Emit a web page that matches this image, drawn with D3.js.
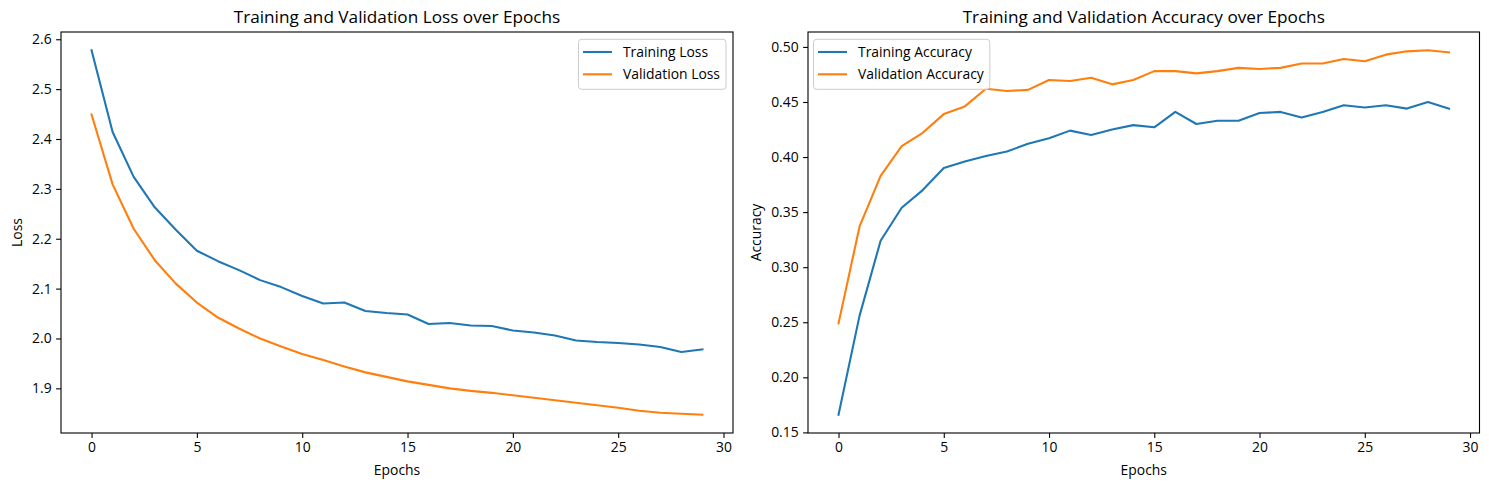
<!DOCTYPE html>
<html>
<head>
<meta charset="utf-8">
<script src="https://cdn.jsdelivr.net/npm/d3@7"></script>
<style>
  body { margin: 0; background: #fff; }
  svg text { font-family: "Open Sans", "Noto Sans", sans-serif; fill: #000; }
</style>
</head>
<body>
<svg id="chart" width="1489" height="490"></svg>
<script>
// ---------------- data ----------------
var epochs = d3.range(30);

var trainLoss = [2.578, 2.414, 2.324, 2.263, 2.218, 2.176, 2.155, 2.137, 2.117, 2.103,
                 2.085, 2.070, 2.072, 2.055, 2.051, 2.048, 2.029, 2.031, 2.026, 2.025,
                 2.016, 2.012, 2.006, 1.996, 1.993, 1.991, 1.988, 1.983, 1.973, 1.978];
var valLoss   = [2.449, 2.309, 2.220, 2.157, 2.110, 2.072, 2.042, 2.020, 2.000, 1.984,
                 1.969, 1.957, 1.944, 1.932, 1.923, 1.914, 1.907, 1.900, 1.895, 1.891,
                 1.886, 1.881, 1.876, 1.871, 1.866, 1.861, 1.855, 1.851, 1.849, 1.847];

var trainAcc  = [0.166, 0.256, 0.324, 0.354, 0.370, 0.390, 0.396, 0.401, 0.405, 0.412,
                 0.417, 0.424, 0.420, 0.425, 0.429, 0.427, 0.441, 0.430, 0.433, 0.433,
                 0.440, 0.441, 0.436, 0.441, 0.447, 0.445, 0.447, 0.444, 0.450, 0.444];
var valAcc    = [0.249, 0.337, 0.383, 0.410, 0.422, 0.439, 0.446, 0.462, 0.460, 0.461,
                 0.470, 0.469, 0.472, 0.466, 0.470, 0.478, 0.478, 0.476, 0.478, 0.481,
                 0.480, 0.481, 0.485, 0.485, 0.489, 0.487, 0.493, 0.496, 0.497, 0.495];

var xTicks = [0, 5, 10, 15, 20, 25, 30];
var lossTicks = [1.9, 2.0, 2.1, 2.2, 2.3, 2.4, 2.5, 2.6];
var accTicks = [0.15, 0.20, 0.25, 0.30, 0.35, 0.40, 0.45, 0.50];

var BLUE = "#1f77b4", ORANGE = "#ff7f0e";

var svg = d3.select("#chart");

// draw one subplot
function panel(opt) {
  var g = svg.append("g");
  var all = opt.series[0].values.concat(opt.series[1].values);
  var lo = d3.min(all), hi = d3.max(all), pad = (hi - lo) * 0.05;

  var x = d3.scaleLinear().domain([-1.45, 30.45]).range([opt.left, opt.right]);
  var y = d3.scaleLinear().domain([lo - pad, hi + pad]).range([opt.bottom, opt.top]);

  // lines
  opt.series.forEach(function(s) {
    var line = d3.line().x(function(d, i) { return x(epochs[i]); }).y(function(d) { return y(d); });
    g.append("path").datum(s.values)
      .attr("fill", "none").attr("stroke", s.color).attr("stroke-width", 2.1)
      .attr("stroke-linejoin", "round").attr("stroke-linecap", "square")
      .attr("d", line);
  });

  // axes
  var xa = g.append("g").attr("transform", "translate(0," + opt.bottom + ")")
    .call(d3.axisBottom(x).tickValues(xTicks).tickSize(4.9).tickPadding(4.5).tickFormat(d3.format("d")));
  var ya = g.append("g").attr("transform", "translate(" + opt.left + ",0)")
    .call(d3.axisLeft(y).tickValues(opt.yTicks).tickSize(4.9).tickPadding(4.5).tickFormat(d3.format(opt.fmt)));
  [xa, ya].forEach(function(a) {
    a.select(".domain").remove();
    a.selectAll("line").attr("stroke", "#000").attr("stroke-width", 1.1);
    a.selectAll("text").style("font-size", "13.9px").attr("fill", "#000");
  });

  // frame
  g.append("rect").attr("x", opt.left).attr("y", opt.top)
    .attr("width", opt.right - opt.left).attr("height", opt.bottom - opt.top)
    .attr("fill", "none").attr("stroke", "#000").attr("stroke-width", 1.1);

  var cx = (opt.left + opt.right) / 2;
  g.append("text").attr("x", cx).attr("y", 23).attr("text-anchor", "middle")
    .style("font-size", "17.2px").text(opt.title);
  g.append("text").attr("x", cx).attr("y", 475).attr("text-anchor", "middle")
    .style("font-size", "13.9px").text("Epochs");
  g.append("text").attr("transform", "translate(" + opt.ylabelX + "," + (opt.top + opt.bottom) / 2 + ") rotate(-90)")
    .attr("text-anchor", "middle").style("font-size", "13.9px").text(opt.ylabel);

  // legend
  var lg = g.append("g");
  var box = lg.append("rect").attr("rx", 3).attr("ry", 3)
    .attr("fill", "#fff").attr("fill-opacity", 0.8)
    .attr("stroke", "#cccccc").attr("stroke-width", 1);
  var maxW = 0;
  opt.series.forEach(function(s, i) {
    var yy = opt.top + 20 + i * 22.3;
    lg.append("line").attr("x1", 4.5).attr("x2", 33.5).attr("y1", yy).attr("y2", yy)
      .attr("stroke", s.color).attr("stroke-width", 2.1);
    var t = lg.append("text").attr("x", 44.5).attr("y", yy).attr("dy", "0.35em")
      .style("font-size", "13.9px").text(s.name);
    maxW = Math.max(maxW, t.node().getComputedTextLength());
  });
  var bw = 44.5 + maxW + 6;
  var bx = opt.legendRight ? opt.right - 7 - bw : opt.left + 5.5;
  box.attr("x", 0).attr("y", opt.top + 7.3).attr("width", bw).attr("height", 50);
  lg.attr("transform", "translate(" + bx + ",0)");
}

panel({
  left: 61, right: 733, top: 32, bottom: 433,
  title: "Training and Validation Loss over Epochs", ylabel: "Loss", ylabelX: 22,
  yTicks: lossTicks, fmt: ".1f", legendRight: true,
  series: [{ name: "Training Loss", values: trainLoss, color: BLUE },
           { name: "Validation Loss", values: valLoss, color: ORANGE }]
});

panel({
  left: 808, right: 1479.5, top: 32, bottom: 433,
  title: "Training and Validation Accuracy over Epochs", ylabel: "Accuracy", ylabelX: 761,
  yTicks: accTicks, fmt: ".2f", legendRight: false,
  series: [{ name: "Training Accuracy", values: trainAcc, color: BLUE },
           { name: "Validation Accuracy", values: valAcc, color: ORANGE }]
});
</script>
</body>
</html>
